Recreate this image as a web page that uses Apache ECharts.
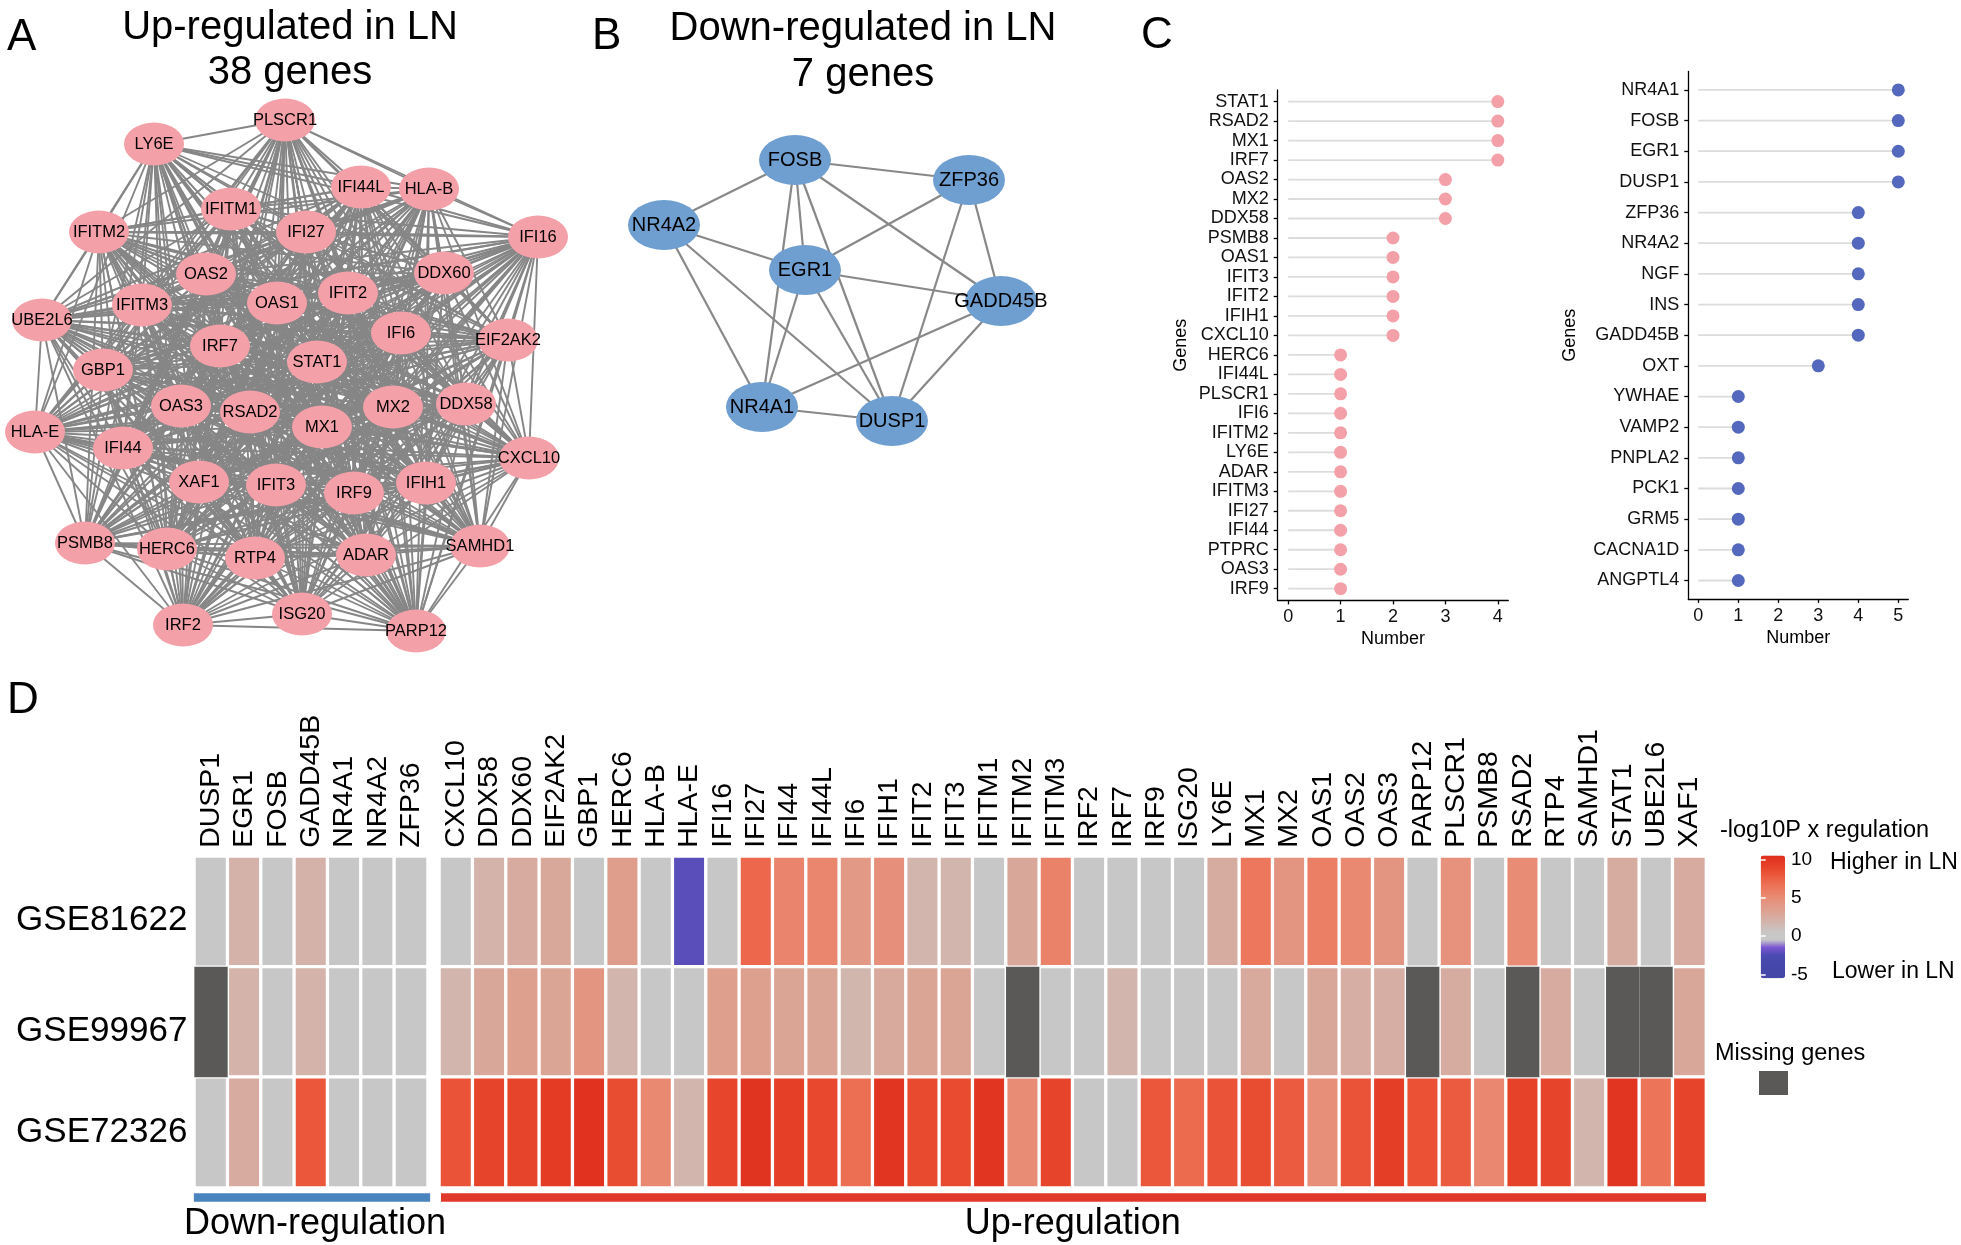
<!DOCTYPE html>
<html>
<head>
<meta charset="utf-8">
<script src="https://cdn.jsdelivr.net/npm/echarts@6/dist/echarts.min.js"></script>
<style>
html,body{margin:0;padding:0;background:#fff;}
#c{width:1961px;height:1245px;}
</style>
</head>
<body>
<div id="c"></div>
<script>
// ======================= DATA =======================
// Panel A: STRING network of the 38 up-regulated genes (node layout as drawn; the network is fully connected)
const upNetworkNodes = [
  ['PLSCR1',285,120],['LY6E',154,144],['IFI44L',361,187],['HLA-B',429,189],['IFITM1',231,209],
  ['IFITM2',99,232],['IFI27',306,232],['IFI16',538,237],['OAS2',206,274],['DDX60',444,273],
  ['IFIT2',348,293],['OAS1',277,303],['IFITM3',142,305],['UBE2L6',42,320],['IFI6',401,333],
  ['EIF2AK2',508,340],['IRF7',220,346],['STAT1',317,362],['GBP1',103,370],['OAS3',181,406],
  ['RSAD2',250,412],['MX2',393,407],['DDX58',466,404],['MX1',322,427],['HLA-E',35,432],
  ['IFI44',123,448],['CXCL10',529,458],['XAF1',199,482],['IFIT3',276,485],['IRF9',354,493],
  ['IFIH1',426,483],['PSMB8',85,543],['HERC6',167,549],['RTP4',255,558],['ADAR',366,555],
  ['SAMHD1',480,546],['ISG20',302,614],['IRF2',183,625],['PARP12',416,631]
];
// Panel B: network of the 7 down-regulated genes
const downNetworkNodes = [
  ['FOSB',215,70],['ZFP36',389,90],['NR4A2',84,135],['EGR1',225,180],
  ['GADD45B',421,211],['NR4A1',182,317],['DUSP1',312,331]
];
const downNetworkLinks = [
  ['FOSB','ZFP36'],['FOSB','NR4A2'],['FOSB','EGR1'],['FOSB','NR4A1'],['FOSB','DUSP1'],['FOSB','GADD45B'],
  ['ZFP36','EGR1'],['ZFP36','DUSP1'],['ZFP36','GADD45B'],
  ['NR4A2','EGR1'],['NR4A2','NR4A1'],['NR4A2','DUSP1'],
  ['EGR1','GADD45B'],['EGR1','NR4A1'],['EGR1','DUSP1'],
  ['GADD45B','NR4A1'],['GADD45B','DUSP1'],['NR4A1','DUSP1']
];

// Panel C: lollipops
const upLollipopGenes = ['STAT1','RSAD2','MX1','IRF7','OAS2','MX2','DDX58','PSMB8','OAS1','IFIT3','IFIT2','IFIH1','CXCL10',
  'HERC6','IFI44L','PLSCR1','IFI6','IFITM2','LY6E','ADAR','IFITM3','IFI27','IFI44','PTPRC','OAS3','IRF9'];
const upLollipopCounts = [4,4,4,4,3,3,3,2,2,2,2,2,2,1,1,1,1,1,1,1,1,1,1,1,1,1];
const upLollipopTicks = [0,1,2,3,4];
const downLollipopGenes = ['NR4A1','FOSB','EGR1','DUSP1','ZFP36','NR4A2','NGF','INS','GADD45B','OXT',
  'YWHAE','VAMP2','PNPLA2','PCK1','GRM5','CACNA1D','ANGPTL4'];
const downLollipopCounts = [5,5,5,5,4,4,4,4,4,3,1,1,1,1,1,1,1];
const downLollipopTicks = [0,1,2,3,4,5];

// Panel D: heatmap (-log10P x regulation); null = missing gene
const datasets = ['GSE81622','GSE99967','GSE72326'];
const downGenes = ['DUSP1','EGR1','FOSB','GADD45B','NR4A1','NR4A2','ZFP36'];
const downValues = [
  [0, 2.0, 0, 2.0, 0, 0, 0],
  [null, 1.9, 0, 1.9, 0, 0, 0],
  [0, 2.5, 0, 8.0, 0, 0, 0]
];
const upGenes = ['CXCL10','DDX58','DDX60','EIF2AK2','GBP1','HERC6','HLA-B','HLA-E','IFI16','IFI27','IFI44','IFI44L',
  'IFI6','IFIH1','IFIT2','IFIT3','IFITM1','IFITM2','IFITM3','IRF2','IRF7','IRF9','ISG20','LY6E','MX1','MX2',
  'OAS1','OAS2','OAS3','PARP12','PLSCR1','PSMB8','RSAD2','RTP4','SAMHD1','STAT1','UBE2L6','XAF1'];
const upValues = [
  [0,1.9,2.5,2.7,0,3.6,0,-2.2,0,7.2,5.5,5.4, 4.0,4.7,1.8,1.8,0,2.8,5.6,0,0,0,0,2.4,6.3,4.3, 5.8,5.2,4.3,0,4.6,0,5.0,0,0,2.4,0,2.5],
  [1.8,2.8,3.4,3.0,4.3,1.8,0,0,3.5,3.4,3.0,3.0, 1.7,2.6,3.0,3.0,0,null,0,0,1.8,0,0,0,2.6,0, 2.8,2.3,2.3,null,2.4,0,null,2.5,0,null,null,2.8],
  [8.2,9.0,9.0,9.6,10.2,8.5,5.2,1.8,8.9,10.1,9.3,8.8, 6.8,10.0,8.7,8.6,10.0,5.0,9.0,0,0,8.0,7.0,8.2,8.5,7.8, 4.8,8.2,9.4,8.3,7.8,5.3,9.2,9.0,1.8,10.0,6.5,9.0]
];
const legendTicks = [-5, 0, 5, 10];
const legendRange = [-5.56, 10.65];
const colorRange = [-5.5, 10.5];
// colour stops at -5.5, -4.5, ..., 10.5
const colorStops = ['#4446A8','#4446A8','#4547AA','#4C4BB2','#7B56D0','#C8C8C8','#C8C6C5','#D0B9B2','#D7AB9F',
  '#DE9F8D','#E5937F','#EA846C','#EC7459','#EC6145','#E94D31','#E43C25','#DF2E1D'];

// ======================= STYLE / LAYOUT =======================
const FONT = '"Liberation Sans", Arial, Helvetica, sans-serif';
const PINK = '#F4A0A8', NODE_BLUE = '#6F9ED0', DOT_BLUE = '#5468BE', EDGE = '#868686', MISSING = '#5a5958';
const HM_TOP = 856.35, HM_H = 331.3;
const DOWN_L = 194.35, DOWN_W = 233.3;
const UP_L = 439.35, UP_W = 1266.7;
const COL_LABEL_GAP = 8.5, COL_LABEL_SIZE = 28.5;
const ROW_LABEL_LOWERED = {GSE81622:true, GSE99967:true};

// ======================= BUILD =======================
const upLinks = [];
for (let i = 0; i < upNetworkNodes.length; i++)
  for (let j = i + 1; j < upNetworkNodes.length; j++)
    upLinks.push({source: upNetworkNodes[i][0], target: upNetworkNodes[j][0]});

function heatData(vals) {
  const out = [];
  vals.forEach((row, r) => row.forEach((v, c) => { if (v !== null) out.push([c, r, v]); }));
  return out;
}
function missingData(vals) {
  const out = [];
  vals.forEach((row, r) => row.forEach((v, c) => { if (v === null) out.push([c, r]); }));
  return out;
}
const hidden = {show:false};
function hiddenAxis(gi, max, inverse) {
  return {type:'value', gridIndex:gi, min:0, max:max, inverse:!!inverse, show:false,
          axisLine:hidden, axisTick:hidden, axisLabel:hidden, splitLine:hidden};
}
function lolliX(gi, min, max, ticks) {
  return {type:'value', gridIndex:gi, min:min, max:max, splitLine:hidden,
    axisLine:{show:true, onZero:false, lineStyle:{color:'#000', width:1.3}},
    axisTick:{show:true, customValues:ticks, length:4, lineStyle:{color:'#000', width:1.3}},
    axisLabel:{show:true, customValues:ticks, fontSize:18, color:'#111', margin:8, fontFamily:FONT},
    name:'Number', nameLocation:'middle', nameGap:30,
    nameTextStyle:{fontSize:18, color:'#000', fontFamily:FONT}};
}
function lolliY(gi, genes, gap) {
  const idx = genes.map((g, i) => i);
  return {type:'value', gridIndex:gi, min:-0.6, max:genes.length - 0.4, inverse:true, splitLine:hidden,
    axisLine:{show:true, onZero:false, lineStyle:{color:'#000', width:1.3}},
    axisTick:{show:true, customValues:idx, length:4, lineStyle:{color:'#000', width:1.3}},
    axisLabel:{show:true, customValues:idx, formatter:(v) => genes[Math.round(v)] || '',
               fontSize:18, color:'#111', margin:9, fontFamily:FONT},
    name:'Genes', nameLocation:'middle', nameRotate:90, nameGap:gap,
    nameTextStyle:{fontSize:18, color:'#000', fontFamily:FONT}};
}
function segSeries(gi, counts) {
  return {type:'custom', xAxisIndex:gi, yAxisIndex:gi, silent:true,
    data: counts.map((v, i) => [v, i]), encode:{x:0, y:1},
    renderItem:(params, api) => {
      const v = api.value(0), i = api.value(1);
      const p0 = api.coord([0, i]), p1 = api.coord([v, i]);
      return {type:'line', shape:{x1:p0[0], y1:p0[1], x2:p1[0], y2:p1[1]},
              style:{stroke:'#dcdcdc', lineWidth:1.8}};
    }};
}
function dotSeries(gi, counts, color) {
  return {type:'scatter', xAxisIndex:gi, yAxisIndex:gi, silent:true, symbol:'circle', symbolSize:13,
    itemStyle:{color:color, opacity:1}, data: counts.map((v, i) => [v, i])};
}
function heatX(gi, genes) {
  return {type:'category', gridIndex:gi, data:genes, position:'top',
    axisLine:hidden, axisTick:hidden, splitLine:hidden, splitArea:hidden, axisLabel:hidden};
}
function heatY(gi, showLabel) {
  return {type:'category', gridIndex:gi, data:datasets, inverse:true,
    axisLine:hidden, axisTick:hidden, splitLine:hidden, splitArea:hidden,
    axisLabel:{show:showLabel, margin:7, color:'#000', fontFamily:FONT, fontSize:35,
      formatter:(v) => (ROW_LABEL_LOWERED[v] ? '{lo|' : '{n|') + v + '}',
      rich:{lo:{fontSize:35, fontFamily:FONT, color:'#000', padding:[18, 0, 0, 0]},
            n:{fontSize:35, fontFamily:FONT, color:'#000'}}}};
}
function missSeries(gi, vals) {
  return {type:'custom', xAxisIndex:gi, yAxisIndex:gi, silent:true, data:missingData(vals),
    encode:{x:0, y:1},
    renderItem:(params, api) => {
      const c = api.coord([api.value(0), api.value(1)]);
      const s = api.size([1, 1]);
      return {type:'rect', shape:{x:c[0] - s[0] / 2, y:c[1] - s[1] / 2, width:s[0], height:s[1]},
              style:{fill:MISSING}};
    }};
}
// column (gene) labels above the heatmap, rotated 90 degrees, placed through the category axis
function colLabelSeries(gi, genes) {
  return {type:'custom', xAxisIndex:gi, yAxisIndex:gi, silent:true, clip:false, z:5,
    data: genes.map((g, i) => [i, 0]), encode:{x:0, y:1},
    renderItem:(params, api) => {
      const i = api.value(0);
      const p = api.coord([i, 0]);
      const s = api.size([1, 1]);
      const top = p[1] - s[1] / 2;
      return {type:'text', x:p[0], y:top - COL_LABEL_GAP, rotation:Math.PI / 2,
        style:{text:genes[i], font:COL_LABEL_SIZE + 'px ' + FONT, fill:'#000',
               align:'left', textAlign:'left', verticalAlign:'middle', textVerticalAlign:'middle'}};
    }};
}
function txt(x, y, text, size, align, rotation) {
  const el = {type:'text', x:x, y:y, silent:true,
    style:{text:text, font:size + 'px ' + FONT, fill:'#000',
           textAlign:align || 'left', align:align || 'left',
           textVerticalAlign:'middle', verticalAlign:'middle'}};
  if (rotation) el.rotation = rotation;
  return el;
}

const option = {
  animation:false,
  backgroundColor:'#ffffff',
  textStyle:{fontFamily:FONT},
  grid:[
    {left:0, top:0, width:600, height:680, outerBoundsMode:'none'},                 // 0 network A
    {left:580, top:90, width:500, height:400, outerBoundsMode:'none'},              // 1 network B
    {left:1277.7, top:89.9, width:230.6, height:510.5, outerBoundsMode:'none'},     // 2 lollipop up
    {left:1688.3, top:71.5, width:220, height:527.4, outerBoundsMode:'none'},       // 3 lollipop down
    {left:DOWN_L, top:HM_TOP, width:DOWN_W, height:HM_H, outerBoundsMode:'none'},   // 4 heat down
    {left:UP_L, top:HM_TOP, width:UP_W, height:HM_H, outerBoundsMode:'none'},       // 5 heat up
    {left:1760.7, top:854.3, width:24.3, height:124.3, outerBoundsMode:'none'}      // 6 colourbar axis
  ],
  xAxis:[
    hiddenAxis(0, 600), hiddenAxis(1, 500),
    lolliX(2, -0.2, 4.2, upLollipopTicks), lolliX(3, -0.25, 5.25, downLollipopTicks),
    heatX(4, downGenes), heatX(5, upGenes),
    {type:'value', gridIndex:6, show:false, min:0, max:1}
  ],
  yAxis:[
    hiddenAxis(0, 680, true), hiddenAxis(1, 400, true),
    lolliY(2, upLollipopGenes, 88), lolliY(3, downLollipopGenes, 109),
    heatY(4, true), heatY(5, false),
    {type:'value', gridIndex:6, min:legendRange[0], max:legendRange[1], position:'right', z:10,
     axisLine:hidden, splitLine:hidden,
     axisTick:{show:true, inside:true, customValues:legendTicks, length:5, lineStyle:{color:'#fff', width:1.5}},
     axisLabel:{show:true, customValues:legendTicks, fontSize:19, margin:6, color:'#000', fontFamily:FONT}},
    {type:'value', gridIndex:6, min:legendRange[0], max:legendRange[1], position:'left', z:10,
     axisLine:hidden, splitLine:hidden, axisLabel:hidden,
     axisTick:{show:true, inside:true, customValues:legendTicks, length:5, lineStyle:{color:'#fff', width:1.5}}}
  ],
  visualMap:[{
    type:'continuous', seriesIndex:[6, 7], min:colorRange[0], max:colorRange[1],
    calculable:false, hoverLink:false, orient:'vertical', left:1760.7, top:855.5, padding:0,
    itemWidth:24.3, itemHeight:122.7, inRange:{color:colorStops}
  }],
  series:[
    {type:'graph', layout:'none', coordinateSystem:'cartesian2d', xAxisIndex:0, yAxisIndex:0, silent:true,
     symbol:'circle', symbolSize:[60, 43], itemStyle:{color:PINK, opacity:1},
     label:{show:true, position:'inside', formatter:'{b}', fontSize:16.5, color:'#000', fontFamily:FONT},
     lineStyle:{color:EDGE, width:1.9, opacity:1, curveness:0},
     emphasis:{disabled:true},
     data: upNetworkNodes.map(n => ({name:n[0], value:[n[1], n[2]]})),
     links: upLinks},
    {type:'graph', layout:'none', coordinateSystem:'cartesian2d', xAxisIndex:1, yAxisIndex:1, silent:true,
     symbol:'circle', symbolSize:[72, 50], itemStyle:{color:NODE_BLUE, opacity:1},
     label:{show:true, position:'inside', formatter:'{b}', fontSize:20, color:'#000', fontFamily:FONT},
     lineStyle:{color:'#888888', width:2.2, opacity:1, curveness:0},
     emphasis:{disabled:true},
     data: downNetworkNodes.map(n => ({name:n[0], value:[n[1], n[2]]})),
     links: downNetworkLinks.map(l => ({source:l[0], target:l[1]}))},
    segSeries(2, upLollipopCounts), dotSeries(2, upLollipopCounts, PINK),
    segSeries(3, downLollipopCounts), dotSeries(3, downLollipopCounts, DOT_BLUE),
    {type:'heatmap', xAxisIndex:4, yAxisIndex:4, silent:true, data:heatData(downValues),
     itemStyle:{borderColor:'#fff', borderWidth:3.3}, emphasis:{disabled:true}},
    {type:'heatmap', xAxisIndex:5, yAxisIndex:5, silent:true, data:heatData(upValues),
     itemStyle:{borderColor:'#fff', borderWidth:3.3}, emphasis:{disabled:true}},
    missSeries(4, downValues), missSeries(5, upValues),
    colLabelSeries(4, downGenes), colLabelSeries(5, upGenes)
  ],
  graphic:[
    txt(7, 38, 'A', 44), txt(592, 37, 'B', 44), txt(1141, 36, 'C', 44), txt(7, 701, 'D', 44),
    txt(290, 28, 'Up-regulated in LN', 40, 'center'), txt(290, 73, '38 genes', 40, 'center'),
    txt(863, 29, 'Down-regulated in LN', 40, 'center'), txt(863, 75, '7 genes', 40, 'center'),
    txt(1720, 831, '-log10P x regulation', 23.5),
    txt(1830, 863, 'Higher in LN', 23), txt(1832, 972, 'Lower in LN', 23),
    txt(1715, 1054, 'Missing genes', 23.5),
    {type:'rect', silent:true, shape:{x:1759, y:1071, width:29, height:24}, style:{fill:MISSING}},
    {type:'rect', silent:true, shape:{x:DOWN_L - 0.5, y:1193.3, width:DOWN_W + 3, height:8.4}, style:{fill:'#4A84BE'}},
    {type:'rect', silent:true, shape:{x:UP_L + 1.6, y:1193.3, width:UP_W - 1.6, height:8.4}, style:{fill:'#E0392B'}},
    txt(DOWN_L + DOWN_W / 2 + 4, 1224, 'Down-regulation', 36, 'center'),
    txt(UP_L + UP_W / 2, 1224, 'Up-regulation', 36, 'center')
  ]
};

const chart = echarts.init(document.getElementById('c'), null, {renderer:'canvas', width:1961, height:1245});
chart.setOption(option);
</script>
</body>
</html>
